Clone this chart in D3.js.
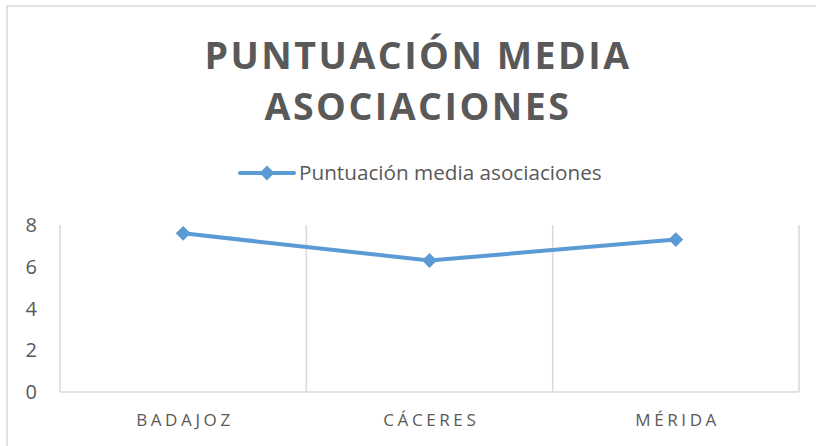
<!DOCTYPE html>
<html>
<head>
<meta charset="utf-8">
<script src="https://cdn.jsdelivr.net/npm/d3@7"></script>
<style>
  body { margin: 0; background: #fff; }
  text { font-family: "Open Sans", sans-serif; fill: #595959; }
</style>
</head>
<body>
<div id="chart"></div>
<script>
// data
var categories = ["BADAJOZ", "CÁCERES", "MÉRIDA"];
var values = [7.6, 6.3, 7.3];
var yTicks = [0, 2, 4, 6, 8];
var seriesName = "Puntuación media asociaciones";
var titleLines = ["PUNTUACIÓN MEDIA", "ASOCIACIONES"];

var width = 816, height = 446;
var lineColor = "#5B9BD5", gridColor = "#d9d9d9";

var svg = d3.select("#chart").append("svg")
	.attr("width", width)
	.attr("height", height);

// chart border (right/bottom edges fall outside the picture)
svg.append("rect")
	.attr("x", 7).attr("y", 6)
	.attr("width", width + 10).attr("height", height + 10)
	.style("fill", "none")
	.style("stroke", gridColor)
	.style("stroke-width", 1.5);

// title
svg.selectAll(".title")
	.data(titleLines)
	.enter()
	.append("text")
		.attr("class", "title")
		.attr("x", 418)
		.attr("y", function(d, i) { return 69 + i * 51; })
		.style("text-anchor", "middle")
		.style("font-size", "37.5px")
		.style("font-weight", 700)
		.style("letter-spacing", "2.5px")
		.text(function(d) { return d; });

var margin = {left: 60, right: 17, top: 225, bottom: 54};

var x = d3.scaleBand()
	.domain(categories)
	.range([margin.left, width - margin.right]);

var y = d3.scaleLinear()
	.domain([0, 8])
	.range([height - margin.bottom, margin.top]);

// vertical gridlines at category boundaries
var bounds = categories.map(function(c) { return x(c); }).concat([x.range()[1]]);
svg.selectAll(".vgrid")
	.data(bounds)
	.enter()
	.append("line")
		.attr("class", "vgrid")
		.attr("x1", function(d) { return d; })
		.attr("x2", function(d) { return d; })
		.attr("y1", y(8))
		.attr("y2", y(0))
		.style("stroke", gridColor)
		.style("stroke-width", 1.5);

// x axis line
svg.append("line")
	.attr("x1", x.range()[0]).attr("x2", x.range()[1])
	.attr("y1", y(0)).attr("y2", y(0))
	.style("stroke", gridColor)
	.style("stroke-width", 1.5);

// y tick labels
svg.selectAll(".ylab")
	.data(yTicks)
	.enter()
	.append("text")
		.attr("class", "ylab")
		.attr("x", 37)
		.attr("y", function(d) { return y(d) + 7; })
		.style("text-anchor", "end")
		.style("font-size", "20px")
		.text(function(d) { return d; });

// x labels
svg.selectAll(".xlab")
	.data(categories)
	.enter()
	.append("text")
		.attr("class", "xlab")
		.attr("x", function(d) { return x(d) + x.bandwidth() / 2 + 1.8; })
		.attr("y", 426)
		.style("text-anchor", "middle")
		.style("font-size", "17px")
		.style("letter-spacing", "3.6px")
		.text(function(d) { return d; });

// line
var line = d3.line()
	.x(function(d, i) { return x(categories[i]) + x.bandwidth() / 2; })
	.y(function(d) { return y(d); });

svg.append("path")
	.datum(values)
	.attr("d", line)
	.style("fill", "none")
	.style("stroke", lineColor)
	.style("stroke-width", 4)
	.style("stroke-linejoin", "round");

var diamond = d3.symbol().type(d3.symbolDiamond2).size(140);

svg.selectAll(".marker")
	.data(values)
	.enter()
	.append("path")
		.attr("class", "marker")
		.attr("d", diamond)
		.attr("transform", function(d, i) {
			return "translate(" + (x(categories[i]) + x.bandwidth() / 2) + "," + y(d) + ")";
		})
		.style("fill", lineColor);

// legend
svg.append("line")
	.attr("x1", 240).attr("x2", 294)
	.attr("y1", 173).attr("y2", 173)
	.style("stroke", lineColor)
	.style("stroke-width", 4)
	.style("stroke-linecap", "round");
svg.append("path")
	.attr("d", diamond)
	.attr("transform", "translate(267,173)")
	.style("fill", lineColor);
svg.append("text")
	.attr("x", 299)
	.attr("y", 180)
	.style("font-size", "20.7px")
	.text(seriesName);
</script>
</body>
</html>
